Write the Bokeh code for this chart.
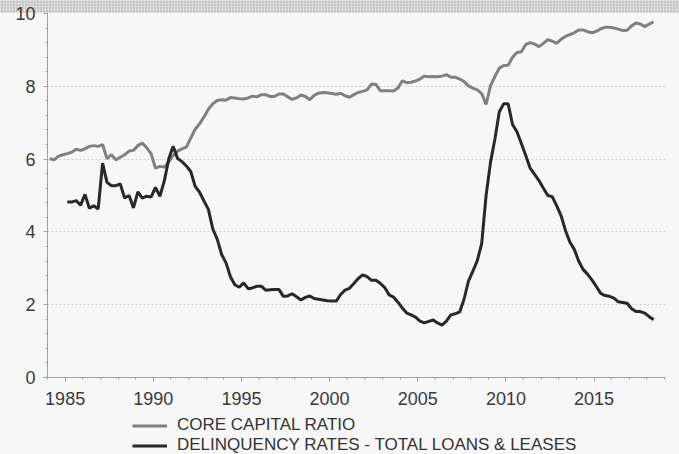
import numpy as np
from bokeh.plotting import figure
from bokeh.layouts import column
from bokeh.models import FixedTicker, Legend, LegendItem, Range1d, Div
from bokeh.embed import file_html
from bokeh.resources import INLINE

# Quarterly series, core capital from 1984Q1, delinquency from 1985Q1 (to 2018Q2)
core_capital = [
    6.01, 5.98, 6.08, 6.12, 6.15, 6.19, 6.27, 6.24, 6.28, 6.35, 6.37, 6.35,
    6.40, 6.01, 6.12, 5.98, 6.05, 6.12, 6.22, 6.24, 6.37, 6.44, 6.31, 6.15,
    5.75, 5.80, 5.78, 5.92, 6.10, 6.22, 6.28, 6.33, 6.58, 6.82, 6.97, 7.16,
    7.37, 7.52, 7.61, 7.63, 7.62, 7.69, 7.68, 7.66, 7.65, 7.68, 7.73, 7.71,
    7.77, 7.77, 7.72, 7.72, 7.79, 7.79, 7.71, 7.64, 7.68, 7.76, 7.72, 7.63,
    7.75, 7.81, 7.83, 7.82, 7.80, 7.78, 7.81, 7.74, 7.70, 7.77, 7.83, 7.86,
    7.90, 8.06, 8.05, 7.88, 7.88, 7.88, 7.87, 7.95, 8.15, 8.10, 8.11, 8.15,
    8.20, 8.28, 8.26, 8.27, 8.26, 8.28, 8.32, 8.25, 8.25, 8.20, 8.13, 8.01,
    7.95, 7.90, 7.80, 7.50, 8.02, 8.27, 8.50, 8.57, 8.58, 8.80, 8.93, 8.95,
    9.15, 9.20, 9.16, 9.09, 9.18, 9.28, 9.24, 9.18, 9.29, 9.37, 9.42, 9.47,
    9.55, 9.55, 9.50, 9.47, 9.51, 9.58, 9.62, 9.62, 9.60, 9.57, 9.53, 9.54,
    9.66, 9.74, 9.71, 9.64, 9.71, 9.77,
]
delinquency = [
    4.82, 4.82, 4.86, 4.73, 5.03, 4.65, 4.72, 4.63, 5.89, 5.36, 5.27, 5.27,
    5.32, 4.93, 5.00, 4.66, 5.10, 4.93, 4.98, 4.96, 5.22, 4.98, 5.40, 6.00,
    6.35, 6.02, 5.93, 5.81, 5.66, 5.25, 5.09, 4.85, 4.62, 4.08, 3.80, 3.38,
    3.15, 2.77, 2.55, 2.48, 2.60, 2.44, 2.46, 2.51, 2.51, 2.40, 2.41, 2.42,
    2.42, 2.23, 2.24, 2.30, 2.22, 2.13, 2.20, 2.24, 2.17, 2.15, 2.13, 2.11,
    2.10, 2.10, 2.28, 2.40, 2.45, 2.58, 2.72, 2.82, 2.77, 2.67, 2.67, 2.59,
    2.47, 2.27, 2.21, 2.07, 1.91, 1.77, 1.72, 1.66, 1.55, 1.50, 1.54, 1.58,
    1.50, 1.44, 1.55, 1.72, 1.75, 1.80, 2.15, 2.65, 2.92, 3.21, 3.68, 5.00,
    5.91, 6.55, 7.30, 7.52, 7.52, 6.95, 6.75, 6.43, 6.10, 5.75, 5.58, 5.41,
    5.20, 5.00, 4.97, 4.72, 4.45, 4.04, 3.72, 3.52, 3.20, 2.97, 2.84, 2.68,
    2.50, 2.31, 2.25, 2.23, 2.18, 2.08, 2.06, 2.04, 1.89, 1.81, 1.81, 1.77,
    1.67, 1.59,
]
core_start_year = 1984
delinq_start_year = 1985
x_major_ticks = [1985, 1990, 1995, 2000, 2005, 2010, 2015]
x_minor_ticks = list(range(1984, 2020))
y_major_ticks = [0, 2, 4, 6, 8, 10]
y_minor_ticks = [round(0.4 * i, 1) for i in range(26)]
series_labels = ["CORE CAPITAL RATIO", "DELINQUENCY RATES - TOTAL LOANS & LEASES"]
series_colors = ["#808080", "#282828"]

core_x = core_start_year + (np.arange(len(core_capital)) + 0.5) / 4
delinq_x = delinq_start_year + (np.arange(len(delinquency)) + 0.5) / 4

BG = "#f7f7f7"
FONT = "Liberation Sans"
W = 679

# textured header band (drawn underneath the transparent chart border)
band_html = ('<div style="width:679px;height:13px;background-color:#c6c6c6;'
             'background-image:repeating-linear-gradient(90deg,'
             'rgba(255,255,255,0.35) 0 1px,transparent 1px 3px),'
             'repeating-linear-gradient(0deg,rgba(255,255,255,0.3) 0 1px,'
             'transparent 1px 3px);"></div>')
band = Div(text=band_html, width=W, height=13, margin=(0, 0, -13, 0))

p = figure(width=W, height=416, output_backend="svg", toolbar_location=None,
           x_range=Range1d(1984.0, 2019.05), y_range=Range1d(0, 10),
           min_border_left=47, min_border_right=14, min_border_top=13,
           min_border_bottom=39)
p.background_fill_color = BG
p.border_fill_alpha = 0
p.outline_line_color = None

p.line(core_x, core_capital, line_color=series_colors[0], line_width=3)
p.line(delinq_x, delinquency, line_color=series_colors[1], line_width=3)

p.xgrid.visible = False
p.ygrid.ticker = FixedTicker(ticks=[2, 4, 6, 8])
p.ygrid.grid_line_color = "#cfcfcf"
p.ygrid.grid_line_dash = "2 2"
p.ygrid.grid_line_width = 1

for ax in (p.xaxis[0], p.yaxis[0]):
    ax.axis_line_color = "#a0a0a0"
    ax.major_tick_line_color = "#a0a0a0"
    ax.minor_tick_line_color = "#a0a0a0"
    ax.major_tick_in = 0
    ax.minor_tick_in = 0
    ax.major_tick_out = 4
    ax.minor_tick_out = 2
    ax.major_label_text_font = FONT
    ax.major_label_text_font_size = "18px"
    ax.major_label_text_color = "#3a3a3a"

p.xaxis[0].ticker = FixedTicker(ticks=x_major_ticks, minor_ticks=x_minor_ticks)
p.yaxis[0].ticker = FixedTicker(ticks=y_major_ticks, minor_ticks=y_minor_ticks)
p.xaxis[0].major_label_standoff = 10
p.yaxis[0].major_label_standoff = 8

# Legend panel below the chart (its frame is aligned with the chart's frame)
lg = figure(width=W, height=38, output_backend="svg", toolbar_location=None,
            x_range=Range1d(0, 1), y_range=Range1d(0, 1),
            x_axis_location=None, y_axis_location=None,
            min_border=0, min_border_left=0, min_border_right=0,
            min_border_top=0, min_border_bottom=0)
lg.grid.visible = False
lg.outline_line_color = None
lg.background_fill_alpha = 0
lg.border_fill_alpha = 0
items = []
for lab, col in zip(series_labels, series_colors):
    rr = lg.line([5, 6], [5, 6], line_color=col, line_width=3)
    items.append(LegendItem(label=lab, renderers=[rr]))
legend = Legend(items=items, location=(85, -1), orientation="vertical")
legend.background_fill_alpha = 0
legend.border_line_color = None
legend.padding = 0
legend.margin = 0
legend.spacing = -3
legend.glyph_width = 35
legend.glyph_height = 17
legend.label_height = 17
legend.label_standoff = 10
legend.label_text_font = FONT
legend.label_text_font_size = "17px"
legend.label_text_color = "#333333"
lg.add_layout(legend)

layout = column(band, p, lg, spacing=0, styles={"background-color": BG})
open("out.html", "w").write(file_html(layout, INLINE))
